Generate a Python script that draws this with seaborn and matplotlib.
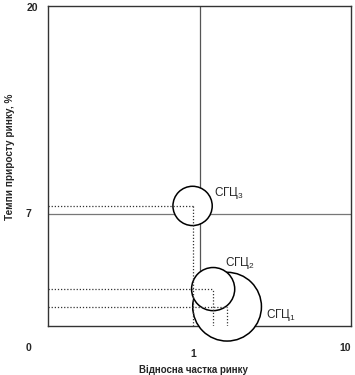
import numpy as np
import pandas as pd
import seaborn as sns
import matplotlib.pyplot as plt

# дані (читано з малюнка)
units = ["СГЦ$_1$", "СГЦ$_2$", "СГЦ$_3$"]
share = [1.52, 1.23, 0.9]      # відносна частка ринку
growth = [1.2, 2.3, 7.5]       # темпи приросту ринку, %
sales = [3.0, 1.2, 1.0]        # обсяг продажу (розмір кола)
label_dx = [1.8, 0.25, 0.35]   # зсув підписів
label_dy = [-0.5, 1.6, 0.8]

df = pd.DataFrame({"unit": units, "share": share, "growth": growth, "sales": sales})

sns.set_style("white")
plt.rcParams["font.family"] = ["Liberation Sans", "DejaVu Sans"]
plt.rcParams["mathtext.fontset"] = "custom"
plt.rcParams["mathtext.rm"] = "Liberation Sans"
plt.rcParams["mathtext.it"] = "Liberation Sans"

fig = plt.figure(figsize=(3.55, 3.75), dpi=100)
ax = fig.add_axes([0.135, 0.131, 0.854, 0.853])

ax.set_xscale("log")
ax.set_xlim(0.1, 10)
ax.set_ylim(0, 20)

# квадранти
ax.axvline(1, color="#555555", lw=0.9, zorder=1)
ax.axhline(7, color="#777777", lw=0.9, zorder=1)

# кола (білі, перекривають лінії)
sns.scatterplot(data=df, x="share", y="growth", size="sales",
                sizes=(800, 2450), size_norm=(1, 3),
                facecolor="white", edgecolor="black", linewidth=1.1,
                legend=False, clip_on=False, ax=ax, zorder=5)
ax.set_xlabel("")
ax.set_ylabel("")

# пунктирні проекції
for x, y in zip(share, growth):
    ax.plot([0.1, x], [y, y], ls=(0, (1, 1.5)), color="#333333", lw=0.9, zorder=6)
    ax.plot([x, x], [0, y], ls=(0, (1, 1.5)), color="#333333", lw=0.9, zorder=6)

for u, x, y, dx, dy in zip(units, share, growth, label_dx, label_dy):
    ax.text(x * dx if dx > 1 else x + dx, y + dy, u, fontsize=8.5,
            ha="left", va="center", zorder=7)

for s in ax.spines.values():
    s.set_color("#333333")
    s.set_linewidth(1.0)
    s.set_zorder(2)

ax.set_xticks([])
ax.set_yticks([])
ax.minorticks_off()

# підписи осей
tick_kw = dict(fontsize=7.5, fontweight="bold", transform=ax.transAxes, ha="center", va="center")
ax.text(-0.063, -0.069, "0", **tick_kw)
ax.text(0.48, -0.087, "1", **tick_kw)
ax.text(0.98, -0.069, "10", **tick_kw)
ax.text(-0.05, 0.994, "20", **tick_kw)
ax.text(-0.063, 0.35, "7", **tick_kw)

ax.text(0.48, -0.138, "Відносна частка ринку", fontsize=7, fontweight="bold",
        transform=ax.transAxes, ha="center", va="center")
ax.text(-0.125, 0.53, "Темпи приросту ринку, %", fontsize=7.2, fontweight="bold",
        rotation=90, transform=ax.transAxes, ha="center", va="center")

fig.savefig("out.png", dpi=100)
